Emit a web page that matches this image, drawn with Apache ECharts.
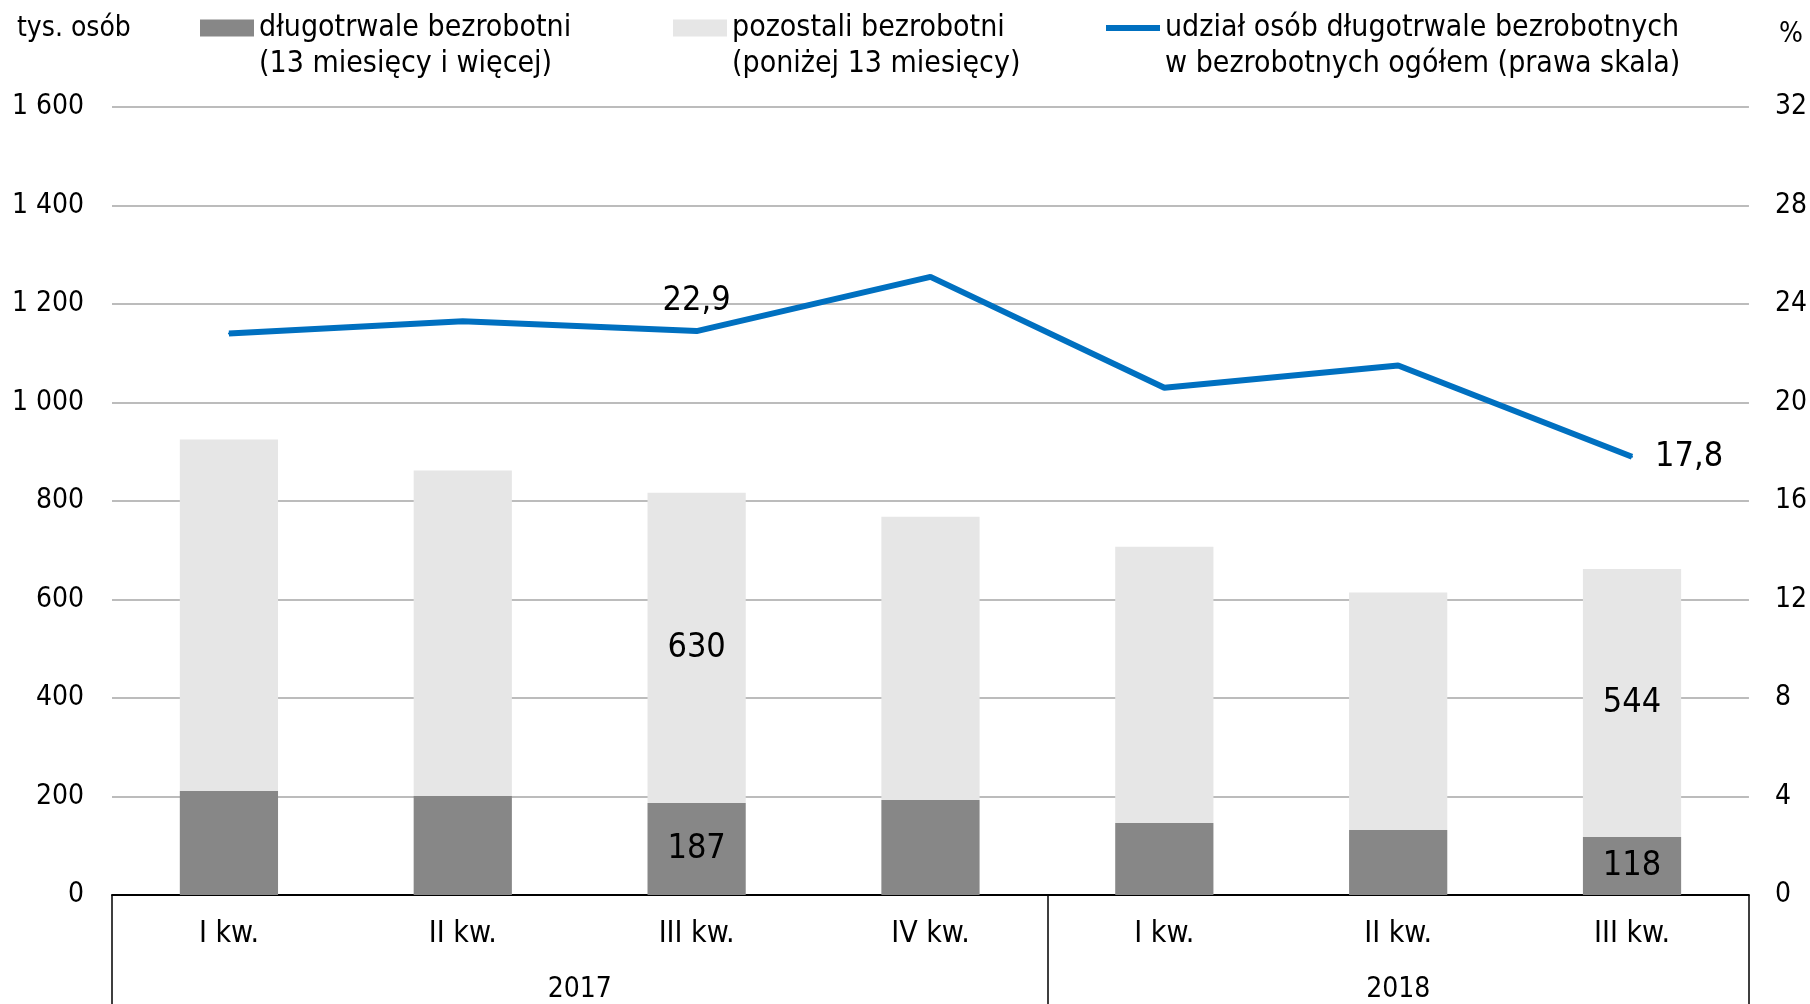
<!DOCTYPE html>
<html>
<head>
<meta charset="utf-8">
<title>Bezrobotni długotrwale</title>
<script src="https://cdn.jsdelivr.net/npm/echarts@6/dist/echarts.min.js"></script>
<style>
  html, body { margin: 0; padding: 0; background: #fff; }
  #chart { width: 1810px; height: 1004px; }
</style>
</head>
<body>
<div id="chart"></div>
<script>
// kwartały i lata
const quarters = ['I kw.', 'II kw.', 'III kw.', 'IV kw.', 'I kw.', 'II kw.', 'III kw.'];
const years = ['', '', '', '', '2017', '', '', '', '', '', '', '2018', '', '', ''];
// tys. osób
const longTerm = [211, 201, 187, 193, 146, 132, 118];
const otherUnemployed = [714, 661, 630, 575, 561, 482, 544];
// udział w %
const longTermShare = [22.8, 23.3, 22.9, 25.1, 20.6, 21.5, 17.8];
// które punkty dostają etykiety
const labelledBars = [2, 6];
const labelledLine = { 2: 'top', 6: 'right' };

const font = '"Liberation Sans Narrow", "DejaVu Sans Condensed", sans-serif';
const comma = v => v.toFixed(1).replace('.', ',');
const spaced = v => String(v).replace(/\B(?=(\d{3})+(?!\d))/g, ' ');

const chart = echarts.init(document.getElementById('chart'));

const barLabel = { show: true, position: 'inside', fontSize: 34, color: '#000', fontFamily: font };

chart.setOption({
  backgroundColor: '#fff',
  textStyle: { fontFamily: font, color: '#000' },
  animation: false,
  title: [
    { text: 'tys. osób', left: 12, top: 10, textStyle: { fontSize: 28, fontWeight: 'normal', fontFamily: font, color: '#000' } },
    { text: '%', left: 1774, top: 16, textStyle: { fontSize: 28, fontWeight: 'normal', fontFamily: font, color: '#000' } },
  ],
  legend: [
    { name: 'długotrwale bezrobotni\n(13 miesięcy i więcej)', left: 200, icon: 'rect', h: 17 },
    { name: 'pozostali bezrobotni\n(poniżej 13 miesięcy)', left: 673, icon: 'rect', h: 17 },
    { name: 'udział osób długotrwale bezrobotnych\nw bezrobotnych ogółem (prawa skala)', left: 1106, icon: 'rect', h: 6 },
  ].map(l => ({
    data: [{ name: l.name, icon: l.icon }],
    left: l.left,
    top: -26,
    padding: 0,
    itemWidth: 54,
    itemHeight: l.h,
    itemGap: 4,
    selectedMode: false,
    // pusta pierwsza linia: pierwszy wiersz tekstu wypada na wysokości ikony
    formatter: name => '\n' + name,
    textStyle: { fontSize: 30, lineHeight: 36, color: '#000', fontFamily: font },
  })),
  grid: { left: 112, right: 61, top: 107, bottom: 108 },
  xAxis: [
    {
      type: 'category',
      data: quarters,
      axisLine: { lineStyle: { color: '#000', width: 2 } },
      axisTick: { length: 55, lineStyle: { color: '#000', width: 1 } },
      axisLabel: { fontSize: 30, color: '#000', margin: 24, fontFamily: font },
    },
    {
      type: 'category',
      data: years,
      position: 'bottom',
      boundaryGap: false,
      axisLine: { show: false },
      axisTick: {
        length: 110,
        interval: i => i === 0 || i === 8 || i === 14,
        lineStyle: { color: '#000', width: 1.5 },
      },
      axisLabel: { interval: 0, fontSize: 28, color: '#000', margin: 81, fontFamily: font },
    },
  ],
  yAxis: [
    {
      type: 'value',
      min: 0,
      max: 1600,
      interval: 200,
      axisLine: { show: false },
      axisTick: { show: false },
      axisLabel: { fontSize: 28, color: '#000', margin: 28, formatter: spaced, fontFamily: font },
      splitLine: { lineStyle: { color: '#a6a6a6', width: 1.5 } },
    },
    {
      type: 'value',
      min: 0,
      max: 32,
      interval: 4,
      axisLine: { show: false },
      axisTick: { show: false },
      axisLabel: { fontSize: 28, color: '#000', margin: 26, fontFamily: font },
      splitLine: { show: false },
    },
  ],
  series: [
    {
      name: 'długotrwale bezrobotni\n(13 miesięcy i więcej)',
      type: 'bar',
      stack: 'total',
      barWidth: '42%',
      itemStyle: { color: '#878787' },
      data: longTerm.map((v, i) => ({ value: v, label: labelledBars.includes(i) ? barLabel : { show: false } })),
    },
    {
      name: 'pozostali bezrobotni\n(poniżej 13 miesięcy)',
      type: 'bar',
      stack: 'total',
      itemStyle: { color: '#e6e6e6' },
      data: otherUnemployed.map((v, i) => ({ value: v, label: labelledBars.includes(i) ? barLabel : { show: false } })),
    },
    {
      name: 'udział osób długotrwale bezrobotnych\nw bezrobotnych ogółem (prawa skala)',
      type: 'line',
      yAxisIndex: 1,
      symbol: 'circle',
      symbolSize: 2,
      lineStyle: { color: '#0070c0', width: 6 },
      itemStyle: { color: '#0070c0' },
      data: longTermShare.map((v, i) => ({
        value: v,
        label: labelledLine[i] ? {
          show: true,
          position: labelledLine[i],
          distance: labelledLine[i] === 'top' ? 12 : 22,
          fontSize: 34,
          color: '#000',
          fontFamily: font,
          formatter: p => comma(p.value),
        } : { show: false },
      })),
    },
  ],
});
</script>
</body>
</html>
